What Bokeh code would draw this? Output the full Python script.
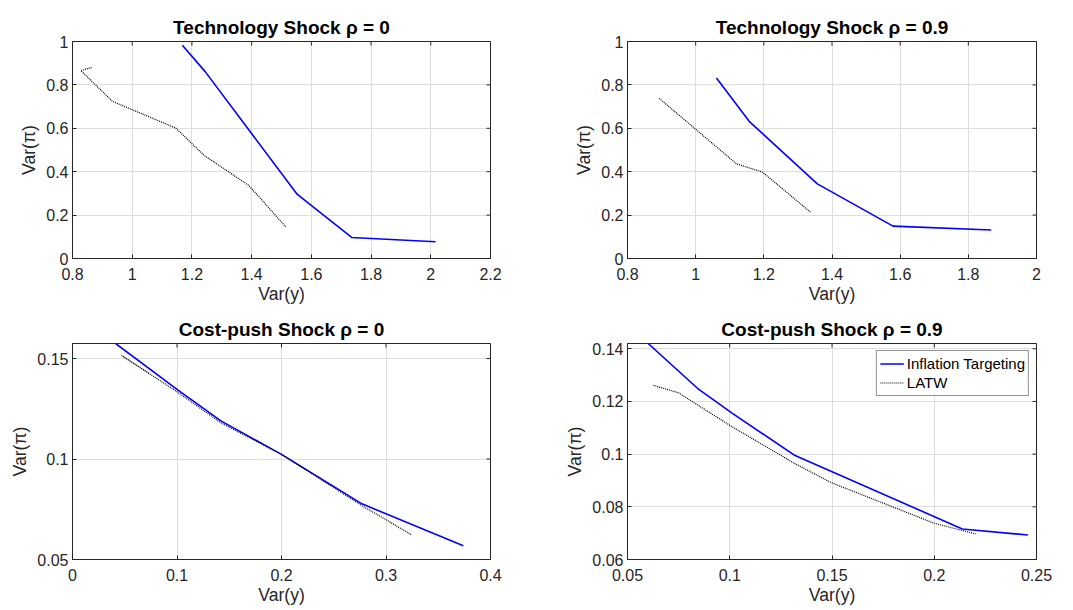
import math
from bokeh.plotting import figure
from bokeh.layouts import column, row
from bokeh.models import Range1d, FixedTicker, CustomJSTickFormatter
from bokeh.embed import file_html
from bokeh.resources import INLINE

# ---------------- data ----------------
# Technology shock rho = 0
tech0_it_x = [1.168, 1.245, 1.553, 1.735, 2.016]
tech0_it_y = [0.983, 0.860, 0.295, 0.097, 0.077]
tech0_latw_x = [0.864, 0.828, 0.934, 1.146, 1.241, 1.391, 1.514]
tech0_latw_y = [0.880, 0.866, 0.724, 0.601, 0.475, 0.336, 0.146]

# Technology shock rho = 0.9
tech9_it_x = [1.061, 1.157, 1.357, 1.579, 1.867]
tech9_it_y = [0.832, 0.632, 0.344, 0.149, 0.131]
tech9_latw_x = [0.893, 1.120, 1.196, 1.339]
tech9_latw_y = [0.738, 0.436, 0.398, 0.211]

# Cost-push shock rho = 0
cp0_it_x = [0.040, 0.100, 0.142, 0.200, 0.277, 0.374]
cp0_it_y = [0.158, 0.1347, 0.119, 0.1023, 0.0777, 0.0568]
cp0_latw_x = [0.073, 0.047, 0.100, 0.142, 0.200, 0.277, 0.3245]
cp0_latw_y = [0.1428, 0.1515, 0.1335, 0.118, 0.1023, 0.0768, 0.0623]

# Cost-push shock rho = 0.9
cp9_it_x = [0.0601, 0.0842, 0.1013, 0.1314, 0.2137, 0.2458]
cp9_it_y = [0.142, 0.125, 0.1155, 0.0997, 0.0716, 0.0693]
cp9_latw_x = [0.0627, 0.0749, 0.1005, 0.1314, 0.1493, 0.1998, 0.2202]
cp9_latw_y = [0.1261, 0.1233, 0.1107, 0.0966, 0.0893, 0.0738, 0.0697]

titles = ["Technology Shock \u03c1 = 0", "Technology Shock \u03c1 = 0.9",
          "Cost-push Shock \u03c1 = 0", "Cost-push Shock \u03c1 = 0.9"]
x_label = "Var(y)"
y_label = "Var(\u03c0)"
series_names = ["Inflation Targeting", "LATW"]

xticks1 = [0.8, 1.0, 1.2, 1.4, 1.6, 1.8, 2.0, 2.2]
xticks2 = [0.8, 1.0, 1.2, 1.4, 1.6, 1.8, 2.0]
yticks12 = [0.0, 0.2, 0.4, 0.6, 0.8, 1.0]
xticks3 = [0.0, 0.1, 0.2, 0.3, 0.4]
yticks3 = [0.05, 0.10, 0.15]
xticks4 = [0.05, 0.10, 0.15, 0.20, 0.25]
yticks4 = [0.06, 0.08, 0.10, 0.12, 0.14]

FONT = "Liberation Sans"
AXC = "#262626"
GRID = "#dedede"
BLUE = "#0000ff"

fmt_code = "return String(parseFloat(tick.toFixed(6)));"


def make_panel(title, xr, yr, xt, yt, fw, fh, bl, br, bt, bb):
    p = figure(output_backend="svg", toolbar_location=None,
               frame_width=fw, frame_height=fh,
               min_border_left=bl, min_border_right=br,
               min_border_top=bt, min_border_bottom=bb,
               x_range=Range1d(*xr), y_range=Range1d(*yr),
               background_fill_color="white", border_fill_color="white")
    p.title.text = title
    p.title.text_font = FONT
    p.title.text_font_size = "19px"
    p.title.text_font_style = "bold"
    p.title.text_color = "black"
    p.title.align = "center"
    p.title.standoff = 8
    p.outline_line_color = AXC
    p.outline_line_width = 1
    p.outline_line_alpha = 1

    for ax, ticks in ((p.xaxis[0], xt), (p.yaxis[0], yt)):
        ax.ticker = FixedTicker(ticks=ticks)
        ax.formatter = CustomJSTickFormatter(code=fmt_code)
        ax.major_tick_in = 4
        ax.major_tick_out = 0
        ax.minor_tick_line_color = None
        ax.major_tick_line_color = AXC
        ax.axis_line_color = AXC
        ax.major_label_text_font = FONT
        ax.major_label_text_font_size = "16px"
        ax.major_label_text_color = AXC
        ax.axis_label_text_font = FONT
        ax.axis_label_text_font_size = "17.6px"
        ax.axis_label_text_font_style = "normal"
        ax.axis_label_text_color = AXC
    p.xaxis.axis_label = x_label
    p.yaxis.axis_label = y_label
    p.xaxis.major_label_standoff = 9
    p.yaxis.major_label_standoff = 4
    p.xaxis.axis_label_standoff = 1
    p.yaxis.axis_label_standoff = 4

    # inward tick marks on the top and right edges (MATLAB box style)
    p.scatter(xt, [yr[1]] * len(xt), marker="dash", size=8, angle=math.pi / 2,
              line_color=AXC, line_width=1)
    p.scatter([xr[1]] * len(yt), yt, marker="dash", size=8,
              line_color=AXC, line_width=1)

    p.xgrid.ticker = FixedTicker(ticks=xt)
    p.ygrid.ticker = FixedTicker(ticks=yt)
    p.grid.grid_line_color = GRID
    p.grid.grid_line_width = 1
    return p


p1 = make_panel(titles[0], (0.8, 2.2), (0.0, 1.0), xticks1, yticks12, 418, 217, 72, 30, 41, 50)
p2 = make_panel(titles[1], (0.8, 2.0), (0.0, 1.0), xticks2, yticks12, 409, 217, 107, 22, 41, 50)
p3 = make_panel(titles[2], (0.0, 0.4), (0.05, 0.1575), xticks3, yticks3, 418, 216, 72, 30, 35, 51)
p4 = make_panel(titles[3], (0.05, 0.25), (0.06, 0.142), xticks4, yticks4, 409, 216, 107, 22, 35, 51)

for p, (ix, iy, lx, ly) in ((p1, (tech0_it_x, tech0_it_y, tech0_latw_x, tech0_latw_y)),
                            (p2, (tech9_it_x, tech9_it_y, tech9_latw_x, tech9_latw_y)),
                            (p3, (cp0_it_x, cp0_it_y, cp0_latw_x, cp0_latw_y))):
    p.line(ix, iy, line_color=BLUE, line_width=1.6)
    p.line(lx, ly, line_color="black", line_width=1.2, line_dash="1 1")

p4.line(cp9_it_x, cp9_it_y, line_color=BLUE, line_width=1.6, legend_label=series_names[0])
p4.line(cp9_latw_x, cp9_latw_y, line_color="black", line_width=1.2, line_dash="1 1",
        legend_label=series_names[1])

lg = p4.legend[0]
lg.location = "top_right"
lg.margin = 7
lg.padding = 3
lg.spacing = 0
lg.glyph_width = 24
lg.glyph_height = 19
lg.label_height = 19
lg.label_standoff = 3
lg.label_text_font = FONT
lg.label_text_font_size = "15px"
lg.label_text_color = "black"
lg.border_line_color = AXC
lg.border_line_width = 1
lg.background_fill_color = "white"
lg.background_fill_alpha = 1

layout = column(row(p1, p2), row(p3, p4))

open("out.html", "w").write(file_html(layout, INLINE))
